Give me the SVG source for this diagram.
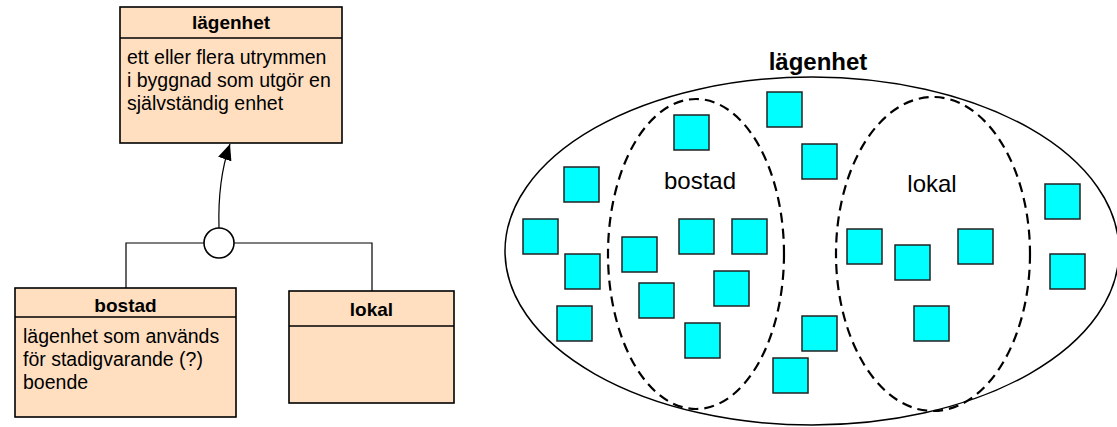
<svg xmlns="http://www.w3.org/2000/svg" width="1117" height="427" viewBox="0 0 1117 427">
<style>
.box{fill:#FFDFC0;stroke:#000;stroke-width:1.6}
.div{stroke:#000;stroke-width:1.6}
.title{font-family:"Liberation Sans",Arial,sans-serif;font-weight:bold;font-size:19px;text-anchor:middle;fill:#000}
.body{font-family:"Liberation Sans",Arial,sans-serif;font-size:19.5px;fill:#000}
.conn{fill:none;stroke:#000;stroke-width:1.2}
.sq{fill:#00FFFF;stroke:#222;stroke-width:1.5}
.set{fill:none;stroke:#000;stroke-width:2.2;stroke-dasharray:10 6}
.lbl{font-family:"Liberation Sans",Arial,sans-serif;font-size:24px;fill:#000;text-anchor:middle}
</style>
<defs>
<marker id="arr" markerWidth="16" markerHeight="14" refX="16" refY="7" orient="auto" markerUnits="userSpaceOnUse">
<path d="M0,0 L16,7 L0,14 Z" fill="#000"/>
</marker>
</defs>
<rect width="1117" height="427" fill="#fff"/>
<g id="connectors">
<path class="conn" d="M219,228 C218,195 221,170 230,144" marker-end="url(#arr)"/>
<path class="conn" d="M204,243 H126 V288"/>
<path class="conn" d="M234,243 H372 V291"/>
<circle cx="219" cy="243" r="15" fill="#fff" stroke="#000" stroke-width="1.6"/>
</g>
<g id="lagenhet">
<rect class="box" x="120" y="7" width="222" height="136"/>
<line class="div" x1="120" y1="38" x2="342" y2="38"/>
<text class="title" x="231" y="29">lägenhet</text>
<text class="body" x="127" y="64">ett eller flera utrymmen</text>
<text class="body" x="127" y="87">i byggnad som utgör en</text>
<text class="body" x="127" y="110">självständig enhet</text>
</g>
<g id="bostad">
<rect class="box" x="15" y="288" width="221" height="129"/>
<line class="div" x1="15" y1="317" x2="236" y2="317"/>
<text class="title" x="125.5" y="312">bostad</text>
<text class="body" x="23" y="343">lägenhet som används</text>
<text class="body" x="23" y="366">för stadigvarande (?)</text>
<text class="body" x="23" y="389">boende</text>
</g>
<g id="lokal">
<rect class="box" x="289" y="291" width="165" height="112"/>
<line class="div" x1="289" y1="326" x2="454" y2="326"/>
<text class="title" x="371.5" y="316">lokal</text>
</g>
<g id="set-lagenhet">
<ellipse cx="812" cy="251" rx="307" ry="174" fill="none" stroke="#000" stroke-width="1.5"/>
<text class="lbl" x="818" y="70" font-weight="bold">lägenhet</text>
</g>
<g id="set-bostad">
<ellipse class="set" cx="696" cy="254" rx="88" ry="155"/>
<text class="lbl" x="700" y="189">bostad</text>
</g>
<g id="set-lokal">
<ellipse class="set" cx="933" cy="254" rx="97" ry="157"/>
<text class="lbl" x="932" y="192">lokal</text>
</g>
<g id="elements">
<rect class="sq" x="674" y="115" width="35" height="35"/>
<rect class="sq" x="767" y="92" width="35" height="35"/>
<rect class="sq" x="802" y="144" width="35" height="35"/>
<rect class="sq" x="564" y="167" width="35" height="35"/>
<rect class="sq" x="523" y="219" width="35" height="35"/>
<rect class="sq" x="565" y="254" width="35" height="35"/>
<rect class="sq" x="557" y="306" width="35" height="35"/>
<rect class="sq" x="622" y="237" width="35" height="35"/>
<rect class="sq" x="679" y="219" width="35" height="35"/>
<rect class="sq" x="732" y="219" width="35" height="35"/>
<rect class="sq" x="639" y="283" width="35" height="35"/>
<rect class="sq" x="714" y="271" width="35" height="35"/>
<rect class="sq" x="685" y="323" width="35" height="35"/>
<rect class="sq" x="802" y="316" width="35" height="35"/>
<rect class="sq" x="773" y="358" width="35" height="35"/>
<rect class="sq" x="847" y="229" width="35" height="35"/>
<rect class="sq" x="895" y="245" width="35" height="35"/>
<rect class="sq" x="958" y="229" width="35" height="35"/>
<rect class="sq" x="914" y="306" width="35" height="35"/>
<rect class="sq" x="1045" y="184" width="35" height="35"/>
<rect class="sq" x="1050" y="254" width="35" height="35"/>
</g>
</svg>
